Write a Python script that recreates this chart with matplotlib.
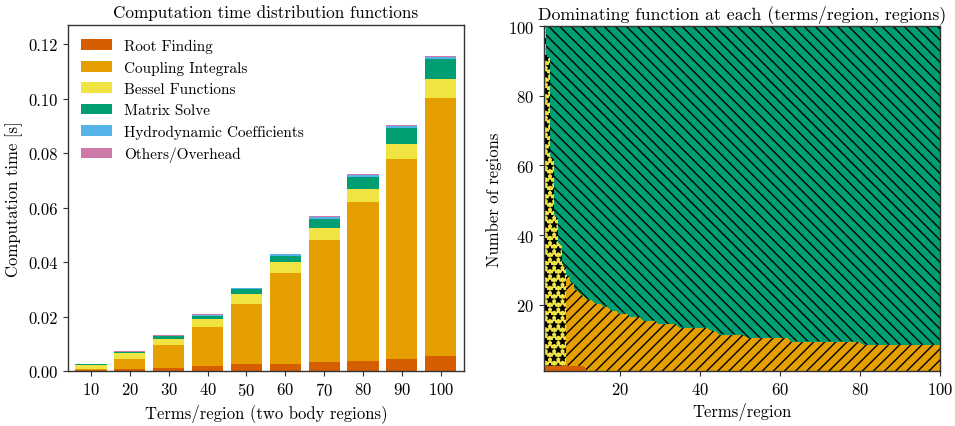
import numpy as np
import matplotlib
matplotlib.use("Agg")
import matplotlib.pyplot as plt

plt.rcParams["font.family"] = "serif"
plt.rcParams["font.serif"] = ["cmr10"]
plt.rcParams["mathtext.fontset"] = "cm"
plt.rcParams["axes.formatter.use_mathtext"] = True
plt.rcParams["font.size"] = 12
plt.rcParams["axes.titlesize"] = 12.3
plt.rcParams["legend.fontsize"] = 11
plt.rcParams["axes.edgecolor"] = "0.2"
plt.rcParams["axes.linewidth"] = 1.0
plt.rcParams["xtick.color"] = "0.2"
plt.rcParams["ytick.color"] = "0.2"
plt.rcParams["xtick.labelcolor"] = "black"
plt.rcParams["ytick.labelcolor"] = "black"

functions = ["Root Finding", "Coupling Integrals", "Bessel Functions",
             "Matrix Solve", "Hydrodynamic Coefficients", "Others/Overhead"]
colors = ["#D55E00", "#E69F00", "#F0E442", "#009E73", "#56B4E9", "#CC79A7"]
hatches = ["", "///", "**", "\\\\\\", "..", "xx"]

# timings per function, two body regions
terms = [10, 20, 30, 40, 50, 60, 70, 80, 90, 100]
t_root = [0.0005, 0.00085, 0.0012, 0.0019, 0.0027, 0.0027, 0.0034, 0.0038, 0.0045, 0.0056]
t_coupling = [0.0004, 0.0037, 0.0084, 0.0143, 0.0220, 0.0334, 0.0448, 0.0583, 0.0734, 0.0947]
t_bessel = [0.0015, 0.0020, 0.0022, 0.0029, 0.0037, 0.0040, 0.0044, 0.0048, 0.0055, 0.0070]
t_matrix = [0.0001, 0.0005, 0.0010, 0.0011, 0.0016, 0.0023, 0.0033, 0.0045, 0.0059, 0.0073]
t_hydro = [0.0001, 0.0002, 0.0003, 0.0005, 0.0005, 0.0005, 0.0007, 0.0006, 0.0006, 0.0007]
t_other = [0.0002, 0.0002, 0.0003, 0.0002, 0.0002, 0.0002, 0.0003, 0.0003, 0.0004, 0.0005]

# dominating function map: terms/region x number of regions
bessel_terms = [1, 2, 3, 4, 5, 6]
bessel_top = [100, 91, 62, 45, 37, 31]          # Bessel dominates up to this many regions
coupling_from = [7, 8, 9, 10, 11, 12, 14, 16, 18, 20, 23, 26, 30, 35, 43, 45, 52, 63, 81]
coupling_top = [28, 26, 24, 23, 22, 21, 20, 19, 18, 17, 16, 15, 14, 13, 12, 11, 10, 9, 8]
root_last_term = 11                              # root finding wins for very few regions
root_top = 2

fig = plt.figure(figsize=(9.55, 4.27), dpi=100)
ax1 = fig.add_axes([67.7 / 955, 1 - 372.3 / 427, (464 - 67.7) / 955, (372.3 - 26) / 427])
ax2 = fig.add_axes([544 / 955, 1 - 372 / 427, 396 / 955, 345 / 427])

# left: stacked bars
series = [t_root, t_coupling, t_bessel, t_matrix, t_hydro, t_other]
bottom = np.zeros(len(terms))
for name, vals, c in zip(functions, series, colors):
    ax1.bar(terms, vals, width=8, bottom=bottom, color=c, label=name)
    bottom += np.array(vals)

ax1.set_xlim(4, 106)
ax1.set_ylim(0, 0.127)
ax1.set_xticks(terms)
ax1.set_yticks([0, 0.02, 0.04, 0.06, 0.08, 0.10, 0.12])
ax1.set_yticklabels(["0.00", "0.02", "0.04", "0.06", "0.08", "0.10", "0.12"])
ax1.set_xlabel("Terms/region (two body regions)")
ax1.set_ylabel("Computation time [s]")
ax1.set_title("Computation time distribution functions")
ax1.legend(loc="upper left", frameon=False)

# right: dominating function map
n_terms = np.arange(1, 101)
n_regions = np.arange(1, 101)
dom = np.full((len(n_regions), len(n_terms)), 3)
for t in n_terms:
    if t >= coupling_from[0]:
        k = max(i for i, f in enumerate(coupling_from) if f <= t)
        dom[:coupling_top[k], t - 1] = 1
for t, top in zip(bessel_terms, bessel_top):
    dom[:top, t - 1] = 2
dom[:root_top, :root_last_term] = 0

T, R = np.meshgrid(n_terms, n_regions)
for i in np.unique(dom):
    ax2.contourf(T, R, (dom == i).astype(float), levels=[0.5, 1.5],
                 colors=[colors[i]], hatches=[hatches[i]])

ax2.set_xlim(1, 100)
ax2.set_ylim(1, 100)
ax2.set_xticks([20, 40, 60, 80, 100])
ax2.set_yticks([20, 40, 60, 80, 100])
ax2.set_xlabel("Terms/region")
ax2.set_ylabel("Number of regions")
ax2.set_title("Dominating function at each (terms/region, regions)", fontsize=12.8)

fig.savefig("out.png", dpi=100)
